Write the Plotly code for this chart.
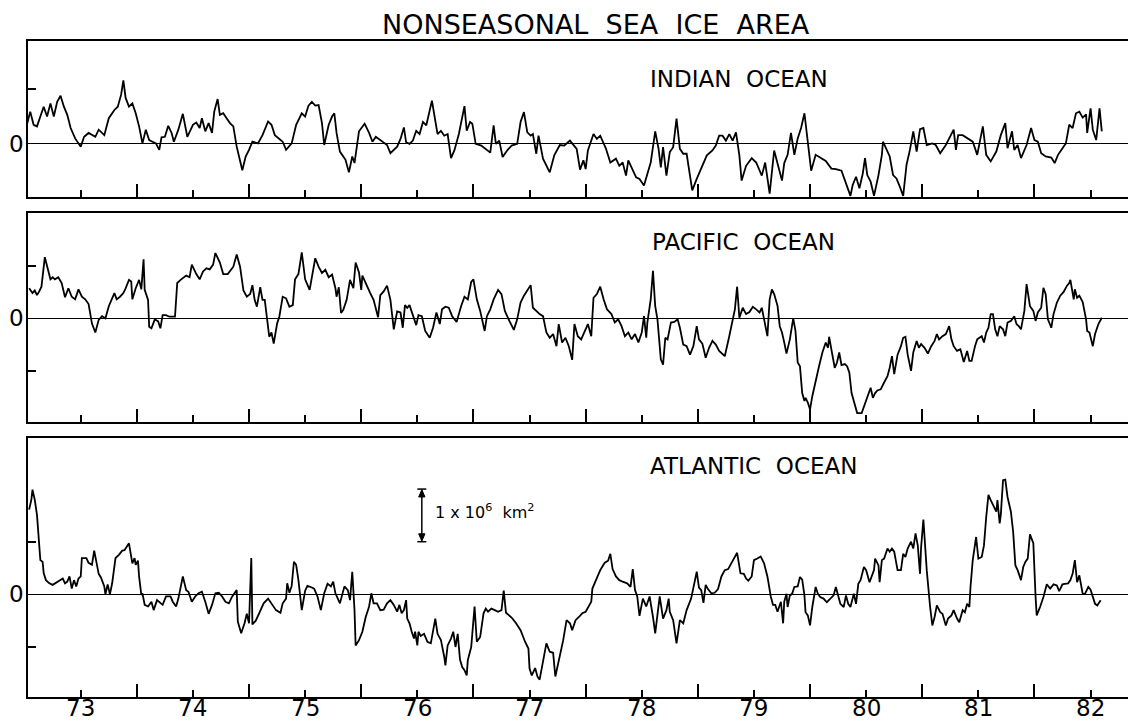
import plotly.graph_objects as go

# ---------------- data (10^6 km^2 anomalies, decimal years) ----------------
indian_t = [1973.02,1973.05,1973.08,1973.11,1973.14,1973.17,1973.20,1973.23,1973.26,1973.29,1973.32,1973.35,1973.38,1973.41,1973.45,1973.50,1973.53,1973.57,1973.63,1973.66,1973.71,1973.75,1973.80,1973.83,1973.86,1973.88,1973.90,1973.93,1973.96,1973.99,1974.02,1974.05,1974.08,1974.11,1974.14,1974.17,1974.20,1974.22,1974.25,1974.28,1974.31,1974.33,1974.37,1974.41,1974.45,1974.50,1974.53,1974.56,1974.58,1974.61,1974.64,1974.67,1974.69,1974.72,1974.74,1974.77,1974.80,1974.83,1974.86,1974.89,1974.94,1974.97,1975.00,1975.03,1975.08,1975.12,1975.17,1975.20,1975.23,1975.27,1975.30,1975.33,1975.38,1975.42,1975.47,1975.50,1975.53,1975.56,1975.59,1975.62,1975.65,1975.67,1975.71,1975.74,1975.76,1975.78,1975.81,1975.86,1975.89,1975.92,1975.94,1975.98,1976.03,1976.07,1976.10,1976.13,1976.19,1976.23,1976.26,1976.29,1976.32,
            1976.35,1976.38,1976.40,1976.43,1976.46,1976.49,1976.52,1976.55,1976.58,1976.63,1976.68,1976.71,1976.74,1976.77,1976.80,1976.83,1976.87,1976.92,1976.94,1976.97,1976.99,1977.02,1977.07,1977.12,1977.15,1977.18,1977.20,1977.23,1977.26,1977.30,1977.34,1977.39,1977.42,1977.45,1977.48,1977.51,1977.53,1977.56,1977.58,1977.62,1977.68,1977.72,1977.77,1977.81,1977.86,1977.92,1977.95,1977.98,1978.00,1978.02,1978.07,1978.10,1978.13,1978.18,1978.22,1978.27,1978.30,1978.33,1978.36,1978.38,1978.42,1978.45,1978.48,1978.52,1978.55,1978.58,1978.62,1978.65,1978.67,1978.69,1978.72,1978.75,1978.78,1978.81,1978.84,1978.87,1978.90,1978.93,1978.95,1978.99,1979.04,1979.08,1979.13,1979.16,1979.19,1979.22,1979.25,1979.28,1979.31,1979.34,1979.37,1979.39,1979.43,1979.48,1979.52,1979.57,1979.60,1979.64,1979.68,1979.71,1979.75,
            1979.77,1979.80,1979.83,1979.86,1979.89,1979.92,1979.95,1979.98,1980.01,1980.05,1980.10,1980.14,1980.19,1980.23,1980.28,1980.31,1980.36,1980.38,1980.41,1980.44,1980.47,1980.49,1980.51,1980.54,1980.57,1980.61,1980.64,1980.65,1980.68,1980.71,1980.74,1980.77,1980.80,1980.83,1980.86,1980.89,1980.92,1980.95,1980.98,1981.01,1981.04,1981.09,1981.12,1981.16,1981.21,1981.24,1981.28,1981.30,1981.32,1981.36,1981.40,1981.45,1981.49,1981.54,1981.57,1981.61,1981.66,1981.70,1981.74,1981.76,1981.80,1981.82,1981.85,1981.88,1981.93,1981.97,1982.00,1982.03,1982.06,1982.10,1982.15,1982.18,1982.21,1982.25,1982.28,1982.31,1982.34,1982.37,1982.40,1982.43,1982.46,1982.47,1982.50,1982.52,1982.55,1982.58,1982.60]
indian_v = [0.35,0.59,0.35,0.32,0.50,0.68,0.50,0.74,0.50,0.77,0.88,0.68,0.53,0.29,0.10,-0.05,0.13,0.20,0.13,0.26,0.16,0.47,0.62,0.68,0.90,1.16,0.84,0.68,0.74,0.56,0.32,0.01,0.26,0.07,0.04,0.01,-0.11,0.12,0.13,0.33,0.20,0.04,0.26,0.55,0.13,0.35,0.39,0.29,0.47,0.23,0.38,0.20,0.59,0.82,0.53,0.56,0.47,0.38,0.32,-0.05,-0.48,-0.23,-0.11,0.04,0.01,0.16,0.41,0.35,0.16,0.10,0.04,-0.11,0.01,0.35,0.56,0.50,0.70,0.77,0.70,0.71,0.38,-0.02,0.35,0.50,0.56,0.20,-0.14,-0.29,-0.52,-0.23,-0.35,0.23,0.37,0.20,0.04,0.13,0.04,-0.02,-0.17,-0.11,-0.05,
            0.09,0.30,0.03,0.00,0.06,0.24,0.18,0.40,0.34,0.79,0.18,0.24,0.15,0.18,-0.26,-0.12,0.18,0.69,0.24,0.40,0.37,0.00,-0.03,-0.12,-0.16,0.34,0.00,0.06,-0.24,-0.12,-0.03,0.00,0.40,0.58,0.21,0.15,0.18,-0.18,0.15,-0.27,-0.52,-0.21,-0.02,-0.03,0.06,-0.09,-0.47,-0.30,-0.46,-0.12,0.18,0.09,0.15,-0.08,-0.34,-0.27,-0.40,-0.34,-0.58,-0.30,-0.49,-0.61,-0.64,-0.76,-0.55,-0.34,0.23,-0.09,-0.43,-0.06,-0.58,-0.15,-0.06,0.46,-0.09,-0.18,-0.18,-0.64,-0.85,-0.64,-0.40,-0.21,-0.12,-0.03,0.15,0.15,0.06,0.18,0.06,0.21,-0.21,-0.67,-0.40,-0.26,-0.34,-0.58,-0.34,-0.91,-0.12,-0.34,-0.67,
            -0.35,-0.20,0.20,-0.20,0.10,0.29,0.56,-0.02,-0.49,-0.20,-0.26,-0.31,-0.45,-0.46,-0.49,-0.66,-0.95,-0.75,-0.60,-0.81,-0.54,-0.26,-0.57,-0.69,-0.95,-0.57,-0.20,0.04,-0.11,-0.23,-0.57,-0.63,-0.78,-0.95,-0.38,-0.11,0.23,-0.14,0.27,0.29,-0.02,0.01,-0.02,-0.17,-0.02,0.10,0.26,-0.11,0.16,0.16,0.10,0.04,-0.20,0.32,-0.20,-0.32,-0.14,0.16,0.38,-0.08,0.23,-0.11,-0.02,-0.26,-0.02,0.29,0.07,0.04,-0.17,-0.23,-0.25,-0.35,-0.20,-0.08,0.01,0.35,0.29,0.56,0.59,0.48,0.54,0.20,0.65,0.26,0.07,0.65,0.23]

pacific_t = [1973.04,1973.07,1973.09,1973.11,1973.13,1973.15,1973.18,1973.20,1973.23,1973.25,1973.27,1973.30,1973.33,1973.36,1973.39,1973.42,1973.45,1973.48,1973.51,1973.54,1973.57,1973.60,1973.63,1973.66,1973.69,1973.72,1973.75,1973.80,1973.82,1973.85,1973.88,1973.90,1973.93,1973.95,1973.96,1973.99,1974.02,1974.04,1974.06,1974.07,1974.10,1974.11,1974.13,1974.16,1974.19,1974.21,1974.23,1974.26,1974.29,1974.32,1974.34,1974.36,1974.39,1974.44,1974.47,1974.49,1974.53,1974.56,1974.59,1974.62,1974.65,1974.68,1974.70,1974.74,1974.77,1974.81,1974.86,1974.89,1974.92,1974.95,1974.98,1975.01,1975.03,1975.05,1975.07,1975.10,1975.12,1975.14,1975.16,1975.18,1975.20,1975.22,1975.25,1975.27,1975.30,1975.33,1975.36,1975.39,1975.41,1975.44,1975.47,1975.50,1975.54,1975.59,1975.62,1975.65,1975.68,1975.71,1975.74,1975.77,1975.78,1975.80,1975.82,1975.84,1975.87,1975.90,1975.93,1975.95,1975.98,1976.00,1976.01,1976.05,1976.08,1976.11,1976.15,1976.17,1976.20,1976.23,1976.26,1976.29,1976.32,
             1976.35,1976.37,1976.39,1976.41,1976.43,1976.46,1976.49,1976.51,1976.54,1976.57,1976.61,1976.64,1976.67,1976.70,1976.72,1976.75,1976.78,1976.81,1976.85,1976.89,1976.92,1976.95,1976.98,1977.00,1977.03,1977.06,1977.10,1977.12,1977.15,1977.18,1977.22,1977.25,1977.28,1977.32,1977.36,1977.39,1977.42,1977.45,1977.48,1977.51,1977.53,1977.56,1977.59,1977.62,1977.65,1977.68,1977.71,1977.74,1977.76,1977.79,1977.82,1977.85,1977.88,1977.90,1977.93,1977.96,1977.99,1978.02,1978.05,1978.07,1978.10,1978.13,1978.16,1978.19,1978.23,1978.26,1978.29,1978.32,1978.35,1978.38,1978.41,1978.44,1978.47,1978.50,1978.52,1978.54,1978.55,1978.58,1978.60,1978.62,1978.64,1978.67,1978.69,1978.71,1978.73,1978.76,1978.79,1978.82,1978.84,1978.87,1978.90,1978.93,1978.96,1978.99,1979.01,1979.04,1979.07,1979.10,1979.13,1979.16,1979.19,1979.24,1979.28,1979.33,1979.35,1979.37,1979.40,1979.43,1979.46,1979.49,1979.52,1979.55,1979.57,1979.60,1979.62,1979.64,1979.66,1979.68,1979.71,
             1979.73,1979.75,1979.77,1979.79,1979.82,1979.85,1979.87,1979.89,1979.91,1979.93,1979.95,1979.96,1979.98,1980.00,1980.02,1980.05,1980.08,1980.11,1980.14,1980.16,1980.17,1980.19,1980.22,1980.24,1980.26,1980.28,1980.31,1980.33,1980.35,1980.37,1980.40,1980.42,1980.46,1980.49,1980.51,1980.54,1980.56,1980.58,1980.60,1980.63,1980.66,1980.69,1980.71,1980.73,1980.75,1980.78,1980.81,1980.83,1980.85,1980.87,1980.90,1980.92,1980.95,1980.97,1980.99,1981.02,1981.05,1981.08,1981.11,1981.13,1981.15,1981.18,1981.21,1981.24,1981.26,1981.28,1981.31,1981.34,1981.37,1981.40,1981.42,1981.44,1981.47,1981.49,1981.53,1981.55,1981.57,1981.59,1981.61,1981.63,1981.65,1981.67,1981.69,1981.72,1981.74,1981.76,1981.79,1981.82,1981.84,1981.86,1981.88,1981.91,1981.93,1981.96,1981.99,1982.01,1982.03,1982.06,1982.08,1982.10,1982.12,1982.15,1982.17,1982.20,1982.23,1982.26,1982.29,1982.31,1982.32,1982.35,1982.36,1982.38,1982.40,1982.43,1982.46,1982.47,1982.49,1982.51,1982.52,1982.54,1982.57,1982.60]
pacific_v = [0.57,0.48,0.53,0.44,0.51,0.60,1.16,0.98,0.74,0.78,0.74,0.78,0.67,0.40,0.57,0.41,0.36,0.55,0.41,0.36,0.27,-0.10,-0.27,-0.03,0.04,0.00,0.23,0.48,0.36,0.41,0.48,0.57,0.73,0.70,0.36,0.57,0.73,0.55,1.12,0.54,0.35,-0.16,-0.19,-0.02,-0.06,-0.19,0.06,0.06,0.03,0.03,0.03,0.67,0.73,0.81,0.78,1.02,0.84,0.74,0.89,0.95,0.93,1.02,1.24,1.06,0.84,0.84,0.98,1.21,0.98,0.53,0.41,0.46,0.63,0.35,0.22,0.59,0.35,0.35,0.00,-0.35,-0.27,-0.48,-0.10,0.03,0.41,0.38,0.22,0.25,0.74,0.84,1.25,0.74,0.54,1.14,0.98,0.86,0.92,0.78,0.83,0.57,0.41,0.59,0.10,0.16,0.35,0.73,0.57,1.06,0.87,0.54,0.81,0.60,0.48,0.35,0.02,0.44,0.51,0.62,0.35,-0.21,0.13,
             0.11,-0.18,0.25,0.20,0.25,0.08,-0.13,0.06,0.04,-0.24,-0.37,-0.18,0.11,-0.11,0.17,0.22,0.20,0.04,-0.07,0.23,0.41,0.36,0.69,0.74,0.36,0.14,-0.24,0.04,0.17,0.36,0.54,0.46,0.14,-0.05,-0.22,-0.02,0.30,0.43,0.52,0.63,0.20,0.14,0.08,0.04,-0.27,-0.37,-0.30,-0.53,-0.11,-0.46,-0.37,-0.53,-0.79,-0.11,-0.34,-0.40,-0.27,-0.11,-0.34,0.39,0.46,0.60,0.36,0.17,0.08,-0.08,-0.02,-0.15,-0.34,-0.27,-0.40,-0.30,-0.46,-0.27,0.04,-0.37,-0.08,0.36,0.90,0.23,-0.02,-0.78,-0.88,-0.37,-0.40,-0.08,-0.07,-0.02,-0.18,-0.50,-0.53,-0.69,-0.53,-0.15,-0.40,-0.48,-0.75,-0.56,-0.43,-0.50,-0.62,-0.72,-0.34,0.17,0.60,0.01,0.20,0.08,0.12,0.22,0.17,0.11,0.20,-0.15,-0.34,0.36,0.55,0.46,0.24,
             -0.15,-0.27,-0.46,-0.67,-0.40,0.00,-0.24,-0.84,-0.91,-1.42,-1.57,-1.51,-1.60,-1.73,-1.48,-1.16,-0.91,-0.65,-0.46,-0.56,-0.35,-0.59,-0.94,-0.84,-0.65,-0.89,-0.87,-0.91,-1.03,-1.42,-1.63,-1.80,-1.80,-1.63,-1.48,-1.32,-1.51,-1.42,-1.37,-1.35,-1.22,-1.10,-0.94,-0.72,-1.06,-0.69,-0.53,-0.37,-0.35,-0.69,-1.00,-0.65,-0.43,-0.56,-0.49,-0.56,-0.67,-0.53,-0.43,-0.30,-0.40,-0.34,-0.30,-0.15,-0.40,-0.53,-0.62,-0.59,-0.83,-0.62,-0.81,-0.81,-0.53,-0.40,-0.34,-0.46,-0.27,-0.18,0.08,0.08,-0.21,-0.34,-0.15,-0.21,-0.34,-0.08,-0.05,0.04,-0.11,-0.15,-0.21,0.14,0.65,0.23,0.14,-0.05,0.11,0.20,0.58,0.46,-0.02,-0.18,0.08,0.30,0.43,0.50,0.62,0.67,0.73,0.36,0.55,0.39,0.43,0.31,-0.02,-0.24,-0.27,-0.46,-0.53,-0.30,-0.11,0.01]

atlantic_t = [1973.04,1973.06,1973.07,1973.09,1973.11,1973.13,1973.14,1973.16,1973.17,1973.19,1973.22,1973.25,1973.28,1973.31,1973.34,1973.36,1973.38,1973.40,1973.42,1973.44,1973.46,1973.48,1973.50,1973.51,1973.55,1973.57,1973.60,1973.62,1973.64,1973.66,1973.68,1973.71,1973.72,1973.74,1973.76,1973.78,1973.81,1973.84,1973.87,1973.89,1973.93,1973.95,1973.96,1973.98,1973.99,1974.01,1974.02,1974.04,1974.05,1974.07,1974.10,1974.13,1974.15,1974.18,1974.21,1974.23,1974.26,1974.30,1974.32,1974.35,1974.37,1974.40,1974.41,1974.44,1974.46,1974.49,1974.52,1974.55,1974.58,1974.61,1974.64,1974.67,1974.70,1974.73,1974.76,1974.79,1974.82,1974.85,1974.89,1974.90,1974.93,1974.96,1974.98,1975.00,1975.02,1975.03,1975.06,1975.09,1975.13,1975.17,1975.20,1975.24,1975.28,1975.30,1975.33,1975.34,1975.36,1975.38,1975.40,1975.42,1975.44,1975.47,1975.50,1975.52,1975.56,1975.58,1975.61,1975.64,1975.67,1975.70,1975.73,1975.75,1975.77,1975.81,1975.83,1975.85,1975.88,1975.90,1975.92,1975.94,1975.95,1975.98,1976.01,1976.04,1976.07,1976.09,1976.11,1976.14,1976.17,1976.20,1976.23,1976.26,1976.29,1976.32,
              1976.34,1976.36,1976.38,1976.40,1976.41,1976.43,1976.45,1976.47,1976.48,1976.50,1976.51,1976.53,1976.56,1976.59,1976.62,1976.64,1976.66,1976.68,1976.71,1976.74,1976.75,1976.77,1976.80,1976.82,1976.84,1976.86,1976.88,1976.90,1976.92,1976.94,1976.95,1976.98,1977.01,1977.03,1977.06,1977.09,1977.11,1977.13,1977.16,1977.19,1977.22,1977.25,1977.27,1977.29,1977.34,1977.38,1977.42,1977.46,1977.49,1977.50,1977.52,1977.55,1977.57,1977.59,1977.62,1977.65,1977.68,1977.71,1977.73,1977.77,1977.80,1977.83,1977.86,1977.88,1977.91,1977.94,1977.97,1978.00,1978.03,1978.05,1978.06,1978.09,1978.13,1978.17,1978.20,1978.22,1978.24,1978.27,1978.30,1978.33,1978.37,1978.40,1978.42,1978.44,1978.46,1978.48,1978.51,1978.54,1978.57,1978.60,1978.62,1978.66,1978.69,1978.72,1978.74,1978.75,1978.78,1978.81,1978.84,1978.87,1978.90,1978.94,1978.96,1978.99,1979.01,1979.03,1979.05,1979.07,1979.09,1979.12,1979.15,1979.18,1979.21,1979.24,1979.27,1979.30,1979.33,1979.35,1979.38,1979.41,1979.43,1979.45,1979.48,1979.50,1979.53,1979.56,1979.59,1979.62,1979.65,1979.67,1979.69,1979.71,1979.74,1979.76,
              1979.77,1979.79,1979.80,1979.82,1979.84,1979.86,1979.89,1979.91,1979.93,1979.95,1979.96,1979.98,1980.00,1980.02,1980.05,1980.07,1980.09,1980.12,1980.15,1980.18,1980.21,1980.23,1980.25,1980.27,1980.30,1980.32,1980.34,1980.36,1980.39,1980.41,1980.43,1980.45,1980.48,1980.50,1980.53,1980.55,1980.57,1980.58,1980.61,1980.62,1980.64,1980.66,1980.69,1980.71,1980.73,1980.75,1980.78,1980.81,1980.83,1980.85,1980.87,1980.90,1980.92,1980.94,1980.96,1980.98,1980.99,1981.01,1981.02,1981.04,1981.07,1981.09,1981.11,1981.13,1981.16,1981.18,1981.21,1981.23,1981.26,1981.28,1981.31,1981.33,1981.36,1981.38,1981.40,1981.42,1981.43,1981.45,1981.48,1981.50,1981.53,1981.55,1981.57,1981.59,1981.61,1981.64,1981.66,1981.67,1981.69,1981.70,1981.72,1981.74,1981.76,1981.79,1981.81,1981.83,1981.85,1981.88,1981.90,1981.92,1981.94,1981.96,1981.99,1982.01,1982.02,1982.05,1982.08,1982.11,1982.14,1982.17,1982.20,1982.22,1982.25,1982.27,1982.30,1982.32,1982.34,1982.36,1982.38,1982.40,1982.42,1982.43,1982.45,1982.48,1982.50,1982.52,1982.54,1982.56,1982.59]
atlantic_v = [1.61,1.80,1.99,1.80,1.51,1.03,0.65,0.62,0.40,0.27,0.21,0.18,0.22,0.27,0.30,0.21,0.24,0.34,0.11,0.27,0.15,0.30,0.34,0.69,0.69,0.60,0.56,0.83,0.59,0.39,0.32,0.15,0.00,0.19,0.00,0.21,0.69,0.75,0.83,0.84,0.97,0.67,0.59,0.69,0.56,0.64,0.34,-0.01,0.02,-0.20,-0.23,-0.14,-0.30,-0.11,-0.16,-0.20,-0.04,-0.04,-0.14,-0.23,-0.08,0.27,0.34,0.08,0.05,-0.14,-0.04,0.02,0.05,-0.14,-0.37,-0.20,0.02,0.03,-0.04,-0.14,-0.17,-0.04,0.08,-0.52,-0.74,-0.55,-0.37,-0.55,0.69,-0.57,-0.50,-0.36,-0.17,-0.08,-0.17,-0.30,-0.35,-0.17,-0.08,0.21,0.03,0.16,0.62,0.56,0.27,-0.30,0.07,0.16,0.13,0.11,-0.04,-0.30,0.02,0.20,0.15,0.24,0.02,-0.17,-0.01,0.15,0.08,-0.11,0.43,-0.30,-0.97,-0.87,-0.71,-0.43,-0.23,0.02,-0.17,-0.17,-0.30,-0.29,-0.17,-0.11,-0.20,-0.33,
              -0.20,-0.36,-0.30,-0.11,-0.46,-0.55,-0.71,-0.84,-0.71,-0.97,-0.71,-0.79,-0.75,-0.90,-0.93,-0.68,-0.46,-0.75,-0.87,-1.19,-1.35,-0.97,-0.84,-0.71,-1.00,-0.75,-1.24,-1.38,-1.44,-1.54,-1.25,-1.00,-0.23,-0.90,-0.81,-0.36,-0.27,-0.33,-0.27,-0.30,-0.33,-0.30,0.07,-0.35,-0.44,-0.55,-0.68,-0.90,-1.03,-1.41,-1.54,-1.40,-1.56,-1.62,-1.25,-0.93,-1.09,-1.11,-1.56,-1.19,-0.87,-0.49,-0.55,-0.68,-0.49,-0.43,-0.36,-0.33,-0.23,-0.14,0.11,0.27,0.46,0.60,0.64,0.77,0.48,0.34,0.27,0.24,0.21,0.14,0.48,0.08,-0.04,-0.41,-0.08,-0.23,-0.04,-0.43,-0.74,-0.04,-0.46,-0.30,-0.08,-0.33,-0.49,-0.93,-0.49,-0.55,-0.30,-0.08,0.15,0.43,0.13,0.08,-0.16,0.18,0.10,0.02,0.03,0.10,0.34,0.46,0.48,0.60,0.69,0.79,0.40,0.39,0.30,0.26,0.34,0.65,0.68,0.72,0.59,0.34,-0.04,-0.20,-0.20,-0.33,-0.14,-0.55,
              -0.14,0.01,-0.24,-0.02,0.01,0.14,0.15,0.33,0.28,-0.02,-0.34,-0.40,-0.59,-0.24,0.14,0.01,-0.05,-0.08,-0.15,-0.08,-0.02,0.14,-0.05,-0.18,-0.24,-0.02,-0.18,-0.24,0.01,-0.18,0.20,0.27,0.52,0.46,0.23,0.33,0.46,0.68,0.55,0.23,0.65,0.68,0.87,0.81,0.87,0.81,0.46,0.46,0.77,0.71,0.87,1.00,0.87,1.16,0.93,0.39,0.90,1.42,1.03,0.46,-0.24,-0.59,-0.43,-0.21,-0.34,-0.37,-0.59,-0.46,-0.40,-0.30,-0.46,-0.53,-0.30,-0.34,-0.18,-0.24,0.14,0.65,1.09,0.68,0.71,0.93,1.47,1.89,1.79,1.67,1.57,1.79,1.35,1.51,2.17,2.18,1.85,1.57,1.19,0.55,0.46,0.27,0.52,0.62,0.68,1.14,0.97,-0.05,-0.40,-0.24,-0.05,0.19,0.11,0.19,0.17,0.06,0.19,0.20,0.21,0.27,0.39,0.65,0.23,0.36,0.08,0.01,0.01,0.14,0.09,-0.04,-0.18,-0.21,-0.11]

year_mid = [1973.5, 1974.5, 1975.5, 1976.5, 1977.5, 1978.5, 1979.5, 1980.5, 1981.5, 1982.5]
year_labels = ["73", "74", "75", "76", "77", "78", "79", "80", "81", "82"]
year_bounds = [1974, 1975, 1976, 1977, 1978, 1979, 1980, 1981, 1982]

panels = [
    ("INDIAN  OCEAN", indian_t, indian_v, [-0.97, 1.88], [0.7622, 1.0], 0.6417, 0.942),
    ("PACIFIC  OCEAN", pacific_t, pacific_v, [-1.97, 2.0], [0.4192, 0.7378], 0.646, 0.6936),
    ("ATLANTIC  OCEAN", atlantic_t, atlantic_v, [-1.95, 2.97], [0.0, 0.3948], 0.655, 0.352),
]

FONT = "DejaVu Sans"
fig = go.Figure()
annotations = []
for i, (name, t, v, yr, dom, lx, ly) in enumerate(panels, start=1):
    sx = "" if i == 1 else str(i)
    fig.add_trace(go.Scatter(x=t, y=v, mode="lines", xaxis="x" + sx, yaxis="y" + sx,
                             line=dict(color="black", width=1.8), showlegend=False,
                             hoverinfo="skip"))
    fig.update_layout(**{
        "xaxis" + sx: dict(
            domain=[0, 1], range=[1973.03, 1982.905], anchor="y" + sx,
            showline=True, linecolor="black", linewidth=2, mirror=True,
            showgrid=False, zeroline=False,
            tickmode="array", tickvals=year_mid,
            ticks="inside", ticklen=7, tickwidth=2, tickcolor="black",
            showticklabels=False,
            minor=dict(tickmode="array", tickvals=year_bounds, ticks="inside",
                       ticklen=13, tickwidth=2, tickcolor="black", showgrid=False),
        ),
        "yaxis" + sx: dict(
            domain=dom, range=yr, anchor="x" + sx,
            showline=True, linecolor="black", linewidth=2, mirror=False,
            showgrid=False, zeroline=True, zerolinecolor="black", zerolinewidth=1.2,
            tickmode="array", tickvals=[-1, 1], showticklabels=False,
            ticks="inside", ticklen=8, tickwidth=2, tickcolor="black",
        ),
    })
    annotations.append(dict(text=name, xref="paper", yref="paper", x=lx, y=ly,
                            xanchor="center", yanchor="middle", showarrow=False,
                            font=dict(family=FONT, size=23, color="black")))
    # zero label at the left of each panel
    annotations.append(dict(text="0", xref="paper", yref="y" + sx, x=0, y=0,
                            xanchor="right", yanchor="middle", xshift=-3, showarrow=False,
                            borderpad=0, font=dict(family=FONT, size=23, color="black")))

# year labels under the bottom axis (placed at the labelled mid-year ticks)
for xv, lab in zip(year_mid, year_labels):
    annotations.append(dict(text=lab, xref="x3", yref="paper", x=xv, y=0,
                            xanchor="center", yanchor="top", yshift=3, showarrow=False,
                            borderpad=0, font=dict(family=FONT, size=23, color="black")))

annotations.append(dict(text="NONSEASONAL  SEA  ICE  AREA", xref="paper", yref="paper",
                        x=0.5126, y=1.0503, xanchor="center", yanchor="top", borderpad=0,
                        showarrow=False, font=dict(family=FONT, size=27, color="black")))

# scale bar: 1 x 10^6 km^2 in Atlantic panel
bar_x = 1976.54
annotations.append(dict(text="1 x 10<sup>6</sup>  km<sup>2</sup>", x=1976.64, y=1.57,
                        xref="x3", yref="y3", xanchor="left", yanchor="middle",
                        showarrow=False, font=dict(family=FONT, size=16, color="black")))
shapes = [dict(type="line", xref="x3", yref="y3", x0=bar_x - 0.04, x1=bar_x + 0.04,
               y0=yc, y1=yc, line=dict(color="black", width=1.5)) for yc in (2.0, 1.0)]
shapes.append(dict(type="line", xref="x3", yref="y3", x0=bar_x, x1=bar_x, y0=1.05, y1=1.95,
                   line=dict(color="black", width=1.5)))
shapes.append(dict(type="path", xref="x3", yref="y3", fillcolor="black",
                   line=dict(color="black", width=1),
                   path=f"M {bar_x - 0.028},1.85 L {bar_x + 0.028},1.85 L {bar_x},1.99 Z"))
shapes.append(dict(type="path", xref="x3", yref="y3", fillcolor="black",
                   line=dict(color="black", width=1),
                   path=f"M {bar_x - 0.028},1.15 L {bar_x + 0.028},1.15 L {bar_x},1.01 Z"))

# the page body adds an 8 px offset, so the figure is 8 px smaller than the window
fig.update_layout(width=1128, height=713, margin=dict(l=20, r=0, t=33, b=24, autoexpand=False),
                  paper_bgcolor="white", plot_bgcolor="white",
                  annotations=annotations, shapes=shapes, showlegend=False)
fig.write_html("out.html")
